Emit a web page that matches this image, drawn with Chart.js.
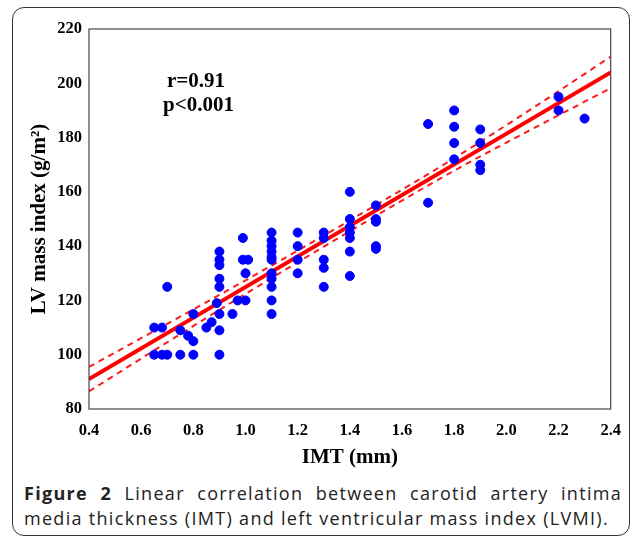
<!DOCTYPE html>
<html>
<head>
<meta charset="utf-8">
<script src="https://cdn.jsdelivr.net/npm/chart.js@4"></script>
<style>
  html, body { margin: 0; padding: 0; background: #fff; }
  body { width: 633px; height: 538px; position: relative; overflow: hidden; }
  .frame {
    position: absolute; left: 12px; top: 7px; width: 618px; height: 529px;
    border: 1.5px solid #333; border-radius: 12px; box-sizing: border-box;
  }
  #chart-wrap { position: absolute; left: 0; top: 0; width: 633px; height: 470px; }
  .stat {
    position: absolute; font-family: "Liberation Serif", serif; font-weight: bold;
    font-size: 21px; color: #000; line-height: 24px;
  }
  .caption {
    position: absolute; left: 24px; top: 481px; width: 598px;
    font-family: "Open Sans", sans-serif; font-size: 18px; line-height: 25px;
    letter-spacing: 1.3px; color: #222;
  }
  .caption .l1 { text-align: justify; text-align-last: justify; white-space: nowrap; }
  .caption b { font-weight: bold; }
</style>
</head>
<body>
<div class="frame"></div>
<div id="chart-wrap"><canvas id="c" width="633" height="470"></canvas></div>
<div class="stat" style="left:167px; top:68px;">r=0.91</div>
<div class="stat" style="left:163px; top:92px;">p&lt;0.001</div>
<div class="caption"><div class="l1"><b>Figure 2</b> Linear correlation between carotid artery intima</div><div>media thickness (IMT) and left ventricular mass index (LVMI).</div></div>

<script>
// ------------------------------------------------------------
// Data
// ------------------------------------------------------------
const imtValues = [
  0.65, 0.65, 0.68, 0.68, 0.70, 0.70, 0.75, 0.75, 0.78,
  0.80, 0.80, 0.80, 0.85, 0.87, 0.89,
  0.90, 0.90, 0.90, 0.90, 0.90, 0.90, 0.90, 0.90,
  0.95, 0.97, 0.99, 0.99, 1.00, 1.00, 1.01,
  1.10, 1.10, 1.10, 1.10, 1.10, 1.10, 1.10, 1.10, 1.10, 1.10, 1.10,
  1.20, 1.20, 1.20, 1.20,
  1.30, 1.30, 1.30, 1.30, 1.30,
  1.40, 1.40, 1.40, 1.40, 1.40, 1.40, 1.40,
  1.50, 1.50, 1.50, 1.50, 1.50,
  1.70, 1.70,
  1.80, 1.80, 1.80, 1.80,
  1.90, 1.90, 1.90, 1.90,
  2.20, 2.20, 2.30
];
const lvmiValues = [
  110, 100, 110, 100, 125, 100, 109, 100, 107,
  115, 105, 100, 110, 112, 119,
  138, 135, 133, 128, 125, 115, 109, 100,
  115, 120, 143, 135, 130, 120, 135,
  145, 142, 140, 138, 136, 135, 130, 128, 125, 120, 115,
  145, 140, 135, 130,
  145, 143, 135, 132, 125,
  160, 150, 147, 145, 143, 138, 129,
  155, 150, 149, 140, 139,
  185, 156,
  190, 184, 178, 172,
  183, 178, 170, 168,
  195, 190, 187
];

// regression line and its confidence band
const fitX = [0.4, 2.4];
const fitY = [91, 204];
const bandX = [0.4, 0.7, 1.0, 1.4, 1.8, 2.1, 2.4];
const bandUpper = [95.5, 111.4, 127.4, 149.5, 172.4, 190.8, 209.8];
const bandLower = [86.5, 104.6, 122.4, 145.5, 167.8, 183.2, 198.2];

const xTicks = [0.4, 0.6, 0.8, 1.0, 1.2, 1.4, 1.6, 1.8, 2.0, 2.2, 2.4];
const yTicks = [80, 100, 120, 140, 160, 180, 200, 220];

// ------------------------------------------------------------
const pts = (xs, ys) => xs.map((x, i) => ({ x, y: ys[i] }));
const serif = '"Liberation Serif", "Times New Roman", serif';

// plain black box around the plot area
const frameBox = {
  id: 'frameBox',
  afterDraw(chart) {
    const { ctx, chartArea: a } = chart;
    ctx.save();
    ctx.strokeStyle = '#444';
    ctx.lineWidth = 1.2;
    ctx.strokeRect(a.left, a.top, a.right - a.left, a.bottom - a.top);
    ctx.restore();
  }
};

new Chart(document.getElementById('c'), {
  type: 'scatter',
  data: {
    datasets: [
      {
        label: 'upper',
        type: 'line',
        data: pts(bandX, bandUpper),
        borderColor: '#ff1a1a',
        borderWidth: 2,
        borderDash: [6, 5],
        pointRadius: 0,
        cubicInterpolationMode: 'monotone',
        fill: false,
        order: 3,
      },
      {
        label: 'lower',
        type: 'line',
        data: pts(bandX, bandLower),
        borderColor: '#ff1a1a',
        borderWidth: 2,
        borderDash: [6, 5],
        pointRadius: 0,
        cubicInterpolationMode: 'monotone',
        fill: false,
        order: 3,
      },
      {
        label: 'fit',
        type: 'line',
        data: pts(fitX, fitY),
        borderColor: '#ff0000',
        borderWidth: 4,
        pointRadius: 0,
        fill: false,
        order: 2,
      },
      {
        label: 'LVMI',
        data: pts(imtValues, lvmiValues),
        backgroundColor: '#0000ff',
        borderColor: '#0000ff',
        pointRadius: 4.5,
        pointHoverRadius: 4.5,
        order: 1,
      },
    ]
  },
  options: {
    responsive: false,
    animation: false,
    events: [],
    layout: { padding: { top: 29, right: 20, left: 0, bottom: 0 } },
    plugins: { legend: { display: false }, tooltip: { enabled: false } },
    scales: {
      x: {
        type: 'linear',
        min: 0.4, max: 2.4,
        afterBuildTicks: s => { s.ticks = xTicks.map(v => ({ value: v })); },
        afterFit: s => { s.height = 61; },
        grid: { display: false, drawTicks: false },
        border: { display: false },
        ticks: {
          color: '#000', padding: 12,
          font: { family: serif, weight: 'bold', size: 16.5 },
          callback: v => v.toFixed(1),
        },
        title: {
          display: true, text: 'IMT (mm)', color: '#000',
          font: { family: serif, weight: 'bold', size: 21 },
          padding: { top: 0, bottom: 0 },
        },
      },
      y: {
        type: 'linear',
        min: 80, max: 220,
        afterBuildTicks: s => { s.ticks = yTicks.map(v => ({ value: v })); },
        afterFit: s => { s.width = 89; },
        grid: { display: false, drawTicks: false },
        border: { display: false },
        ticks: {
          color: '#000', padding: 7,
          font: { family: serif, weight: 'bold', size: 16.5 },
        },
        title: {
          display: true, text: 'LV mass index (g/m\u00b2)', color: '#000',
          font: { family: serif, weight: 'bold', size: 21 },
          padding: { top: 27, bottom: 0 },
        },
      },
    }
  },
  plugins: [frameBox]
});
</script>
</body>
</html>
